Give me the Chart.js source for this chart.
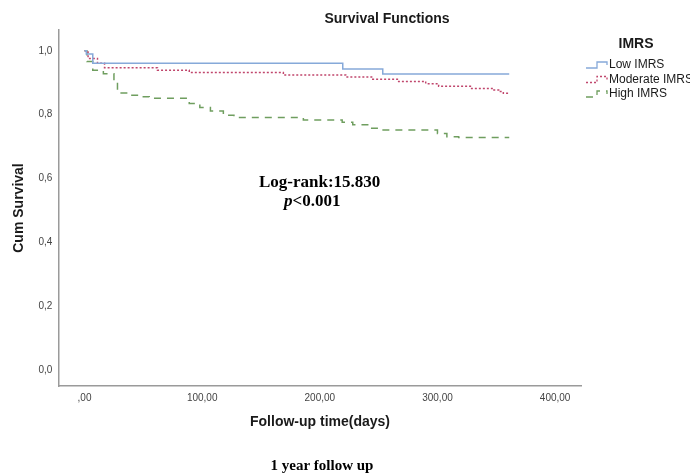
<!DOCTYPE html>
<html>
<head>
<meta charset="utf-8">
<script src="https://cdn.jsdelivr.net/npm/chart.js@4/dist/chart.umd.min.js"></script>
<style>
  html, body { margin: 0; padding: 0; background: #ffffff; }
  #c { display: block; }
</style>
</head>
<body>
<canvas id="c" width="690" height="475"></canvas>
<script>
// ---- data ----
const seriesNames = ["Low IMRS", "Moderate IMRS", "High IMRS"];

const lowTimes = [0, 1.5, 7, 219.5, 253.5, 361];
const lowSurv  = [1, 0.99, 0.961, 0.943, 0.927, 0.927];

const modTimes = [0, 3, 11, 17, 62, 89, 169, 222, 245, 267, 290, 301, 328, 348, 352, 356, 361];
const modSurv  = [1, 0.976, 0.961, 0.947, 0.939, 0.932, 0.924, 0.918, 0.911, 0.904, 0.897, 0.889, 0.882, 0.877, 0.872, 0.867, 0.867];

const highTimes = [0, 2, 7, 16, 25, 28, 37, 47, 55, 89, 98, 107, 118, 127, 186, 219, 228, 243, 252, 300, 308, 318, 361];
const highSurv  = [1, 0.966, 0.939, 0.928, 0.903, 0.868, 0.861, 0.856, 0.851, 0.835, 0.822, 0.811, 0.798, 0.791, 0.783, 0.776, 0.768, 0.757, 0.752, 0.741, 0.731, 0.728, 0.728];

const xTickValues = [0, 100, 200, 300, 400];
const xTickLabels = [",00", "100,00", "200,00", "300,00", "400,00"];
const yTickValues = [0, 0.2, 0.4, 0.6, 0.8, 1.0];
const yTickLabels = ["0,0", "0,2", "0,4", "0,6", "0,8", "1,0"];

const chartTitle = "Survival Functions";
const xTitle = "Follow-up time(days)";
const yTitle = "Cum Survival";
const legendTitle = "IMRS";
const caption = "1 year follow up";
const statLine1 = "Log-rank:15.830";
const statP = "p";
const statLine2 = "<0.001";

// ---- styles ----
const colors = ["#86a9d9", "#c0466c", "#6f9e5f"];
const dashes = [[], [2, 2], [7, 6]];
const SANS = "Arial, 'Liberation Sans', sans-serif";
const SERIF = "'Times New Roman', 'Liberation Serif', serif";

function pts(ts, ss) { return ts.map((t, i) => ({ x: t, y: ss[i] })); }

const textPlugin = {
  id: 'texts',
  afterDraw(chart) {
    const ctx = chart.ctx;
    const ca = chart.chartArea;
    ctx.save();
    ctx.fillStyle = '#1a1a1a';
    ctx.textBaseline = 'middle';
    // title
    ctx.textAlign = 'center';
    ctx.font = 'bold 14px ' + SANS;
    ctx.fillText(chartTitle, 387, 19);
    // x title
    ctx.fillText(xTitle, (ca.left + ca.right) / 2, 422);
    // y title
    ctx.save();
    ctx.translate(19, (ca.top + ca.bottom) / 2);
    ctx.rotate(-Math.PI / 2);
    ctx.fillText(yTitle, 0, 0);
    ctx.restore();
    // caption
    ctx.fillStyle = '#000';
    ctx.font = 'bold 15px ' + SERIF;
    ctx.fillText(caption, 322, 466);
    // stats annotation
    ctx.textAlign = 'left';
    ctx.font = 'bold 17px ' + SERIF;
    ctx.fillText(statLine1, 259, 183);
    ctx.font = 'italic bold 17px ' + SERIF;
    ctx.fillText(statP, 284, 202);
    const pw = ctx.measureText(statP).width;
    ctx.font = 'bold 17px ' + SERIF;
    ctx.fillText(statLine2, 284 + pw, 202);
    // legend
    ctx.fillStyle = '#1a1a1a';
    ctx.textAlign = 'center';
    ctx.font = 'bold 14px ' + SANS;
    ctx.fillText(legendTitle, 636, 44);
    ctx.textAlign = 'left';
    ctx.font = '12px ' + SANS;
    const ys = [65, 79.5, 94];
    seriesNames.forEach((name, i) => {
      const y = ys[i];
      ctx.strokeStyle = colors[i];
      ctx.lineWidth = 1.3;
      ctx.setLineDash(dashes[i]);
      ctx.beginPath();
      ctx.moveTo(586, y + 3);
      ctx.lineTo(597, y + 3);
      ctx.lineTo(597, y - 3);
      ctx.lineTo(607, y - 3);
      ctx.lineTo(607, y);
      ctx.stroke();
      ctx.setLineDash([]);
      ctx.fillStyle = '#1a1a1a';
      ctx.fillText(name, 609, y);
    });
    ctx.restore();
  }
};

const cfg = {
  type: 'line',
  data: {
    datasets: [
      { label: seriesNames[0], data: pts(lowTimes, lowSurv) },
      { label: seriesNames[1], data: pts(modTimes, modSurv) },
      { label: seriesNames[2], data: pts(highTimes, highSurv) }
    ].map((d, i) => Object.assign(d, {
      borderColor: colors[i],
      borderWidth: 1.5,
      borderDash: dashes[i],
      stepped: 'before',
      pointRadius: 0,
      fill: false,
      tension: 0
    }))
  },
  options: {
    responsive: false,
    devicePixelRatio: 1,
    animation: false,
    layout: { padding: { left: 0, top: 30, right: 108.3, bottom: 0 } },
    plugins: { legend: { display: false }, title: { display: false }, tooltip: { enabled: false } },
    scales: {
      x: {
        type: 'linear',
        min: -22.3,
        max: 422.6,
        afterBuildTicks: s => { s.ticks = xTickValues.map(v => ({ value: v })); },
        afterFit: s => { s.height = 89; },
        ticks: {
          callback: v => { const i = xTickValues.indexOf(v); return i >= 0 ? xTickLabels[i] : ''; },
          font: { size: 10, family: SANS },
          color: '#444',
          padding: 6,
          maxRotation: 0,
          autoSkip: false
        },
        grid: { display: false, drawTicks: false },
        border: { display: true, color: '#9a9a9a', width: 1.5 }
      },
      y: {
        type: 'linear',
        min: -0.05,
        max: 1.065,
        afterBuildTicks: s => { s.ticks = yTickValues.map(v => ({ value: v })); },
        afterFit: s => { s.width = 58.3; },
        ticks: {
          callback: v => { const i = yTickValues.findIndex(t => Math.abs(t - v) < 1e-9); return i >= 0 ? yTickLabels[i] : ''; },
          font: { size: 10, family: SANS },
          color: '#444',
          padding: 6,
          autoSkip: false
        },
        grid: { display: false, drawTicks: false },
        border: { display: true, color: '#9a9a9a', width: 1.5 }
      }
    }
  },
  plugins: [textPlugin]
};

new Chart(document.getElementById('c'), cfg);
</script>
</body>
</html>
